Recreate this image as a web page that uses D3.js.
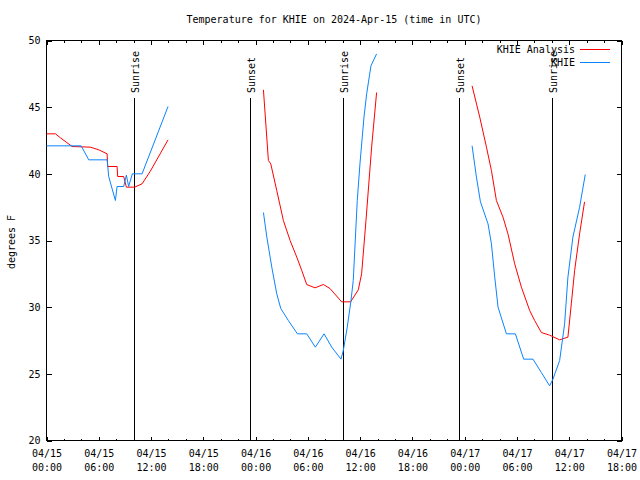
<!DOCTYPE html>
<html>
<head>
<meta charset="utf-8">
<script src="https://cdn.jsdelivr.net/npm/d3@7"></script>
<style>
  html, body { margin: 0; padding: 0; background: #fff; }
  svg { display: block; }
  text { font-family: "DejaVu Sans Mono", "Liberation Mono", monospace; font-size: 10px; fill: #000; }
</style>
</head>
<body>
<svg id="chart" width="640" height="480"></svg>
<script>
// ---- data (hours since 2024-04-15 00:00 UTC; null = gap) ----
const analysisHours = [0.0, 1.03, 1.6, 2.94, 5.04, 6.0, 6.96, 7.02, 8.1, 8.17, 8.86, 9.17, 10.12, 10.97, 11.92, 13.95,
  19.0,
  24.9, 25.47, 25.74, 26.43, 27.19, 27.96, 28.73, 29.3, 29.87, 30.82, 31.78, 32.54, 33.88, 34.91, 35.79, 36.17, 36.67, 37.32, 37.89,
  43.0,
  48.85, 49.73, 50.5, 51.07, 51.64, 52.4, 52.97, 53.74, 54.51, 55.46, 56.03, 56.8, 57.75, 58.9, 59.85, 60.24, 60.62, 61.19, 61.76];
const analysisTemps = [43.0, 43.0, 42.7, 42.05, 42.0, 41.8, 41.5, 40.55, 40.55, 39.8, 39.8, 39.0, 39.0, 39.25, 40.2, 42.55,
  null,
  46.3, 41.0, 40.75, 38.75, 36.5, 35.0, 33.75, 32.75, 31.7, 31.45, 31.7, 31.4, 30.4, 30.4, 31.3, 32.5, 36.5, 42.0, 46.1,
  null,
  46.6, 44.25, 42.0, 40.25, 38.0, 36.75, 35.5, 33.25, 31.5, 29.75, 29.0, 28.1, 27.9, 27.55, 27.75, 30.25, 32.75, 35.5, 37.9];

const obsHours = [0.0, 3.98, 4.85, 6.96, 7.14, 7.91, 8.1, 8.86, 9.17, 9.43, 9.85, 10.97, 13.95,
  19.0,
  24.9, 25.29, 25.86, 26.43, 26.89, 27.76, 28.8, 29.87, 30.86, 31.86, 32.74, 33.8, 34.07, 34.52, 34.95, 35.21, 35.67, 35.98, 36.44, 36.75, 37.24, 37.89,
  43.0,
  48.85, 49.35, 49.81, 50.68, 51.07, 51.45, 51.83, 52.79, 53.82, 54.77, 55.84, 56.8, 57.75, 58.13, 58.9, 59.47, 59.85, 60.42, 61.19, 61.84];
const obsTemps = [42.1, 42.1, 41.05, 41.05, 39.8, 38.0, 39.05, 39.05, 39.9, 39.05, 40.0, 40.0, 45.05,
  null,
  37.1, 35.25, 33.0, 31.0, 29.9, 29.0, 28.0, 28.0, 27.0, 28.0, 27.0, 26.1, 26.75, 28.5, 30.5, 32.0, 38.0, 40.75, 44.25, 46.0, 48.1, 49.0,
  null,
  42.1, 39.75, 37.9, 36.25, 34.75, 32.25, 30.0, 28.0, 28.0, 26.1, 26.1, 25.1, 24.1, 24.6, 26.0, 28.75, 32.25, 35.25, 37.5, 39.95];

const sunEventHours = [10.08, 23.38, 34.03, 47.32, 57.98];
const sunEventLabels = ["Sunrise", "Sunset", "Sunrise", "Sunset", "Sunrise"];

const yTickValues = [20, 25, 30, 35, 40, 45, 50];
const seriesNames = ["KHIE Analysis", "KHIE"];
const seriesColors = ["#ff0000", "#0a84ff"];
const titleText = "Temperature for KHIE on 2024-Apr-15 (time in UTC)";
const yLabelText = "degrees F";

// ---- helpers ----
const t0 = Date.UTC(2024, 3, 15, 0, 0);
const toDate = h => new Date(t0 + h * 3600 * 1000);

const svg = d3.select("#chart");
const L = 46.5, R = 621.5, T = 40.5, B = 440.5;

const x = d3.scaleUtc().domain([toDate(0), toDate(66)]).range([L, R]);
const y = d3.scaleLinear().domain([20, 50]).range([B, T]);

const majorTicks = d3.range(0, 67, 6).map(toDate);
const minorTicks = d3.range(0, 67, 2).filter(h => h % 6 !== 0).map(toDate);

function styleAxis(g) {
  g.select(".domain").remove();
  g.selectAll(".tick line").attr("stroke", "#000").attr("shape-rendering", "crispEdges");
}

// bottom axis (ticks inward)
svg.append("g").attr("transform", `translate(0,${B})`)
  .call(d3.axisBottom(x).tickValues(minorTicks).tickSizeInner(-2).tickSizeOuter(0).tickFormat(""))
  .call(styleAxis);
const gxMajor = svg.append("g").attr("transform", `translate(0,${B})`)
  .call(d3.axisBottom(x).tickValues(majorTicks).tickSizeInner(-4).tickSizeOuter(0).tickFormat(""))
  .call(styleAxis);
gxMajor.selectAll(".tick text").remove();
const fmtDay = d3.utcFormat("%m/%d"), fmtTime = d3.utcFormat("%H:%M");
gxMajor.selectAll(".tick").each(function(d) {
  const tx = d3.select(this).append("text").attr("text-anchor", "middle");
  tx.append("tspan").attr("x", 0).attr("y", 16).text(fmtDay(d));
  tx.append("tspan").attr("x", 0).attr("y", 30).text(fmtTime(d));
});

// top mirrored ticks
svg.append("g").attr("transform", `translate(0,${T})`)
  .call(d3.axisTop(x).tickValues(minorTicks).tickSizeInner(-2).tickSizeOuter(0).tickFormat(""))
  .call(styleAxis);
svg.append("g").attr("transform", `translate(0,${T})`)
  .call(d3.axisTop(x).tickValues(majorTicks).tickSizeInner(-4).tickSizeOuter(0).tickFormat(""))
  .call(styleAxis);

// left axis
const gy = svg.append("g").attr("transform", `translate(${L},0)`)
  .call(d3.axisLeft(y).tickValues(yTickValues).tickSizeInner(-5).tickSizeOuter(0).tickPadding(6))
  .call(styleAxis);
gy.selectAll(".tick text").attr("font-family", null).attr("font-size", null).attr("fill", "#000");
// right mirrored
svg.append("g").attr("transform", `translate(${R},0)`)
  .call(d3.axisRight(y).tickValues(yTickValues).tickSizeInner(-5).tickSizeOuter(0).tickFormat(""))
  .call(styleAxis);

// frame
svg.append("rect").attr("x", L).attr("y", T).attr("width", R - L).attr("height", B - T)
  .attr("fill", "none").attr("stroke", "#000").attr("shape-rendering", "crispEdges");

// sunrise / sunset lines
sunEventHours.forEach((h, i) => {
  const xp = Math.round(x(toDate(h))) + 0.5;
  svg.append("line").attr("x1", xp).attr("x2", xp).attr("y1", 98).attr("y2", B)
    .attr("stroke", "#000").attr("shape-rendering", "crispEdges");
  svg.append("text").attr("transform", `translate(${xp + 1},93) rotate(-90)`)
    .attr("text-anchor", "start").attr("dy", "0.35em").text(sunEventLabels[i]);
});

// series lines
function drawSeries(hours, temps, color) {
  const pts = hours.map((h, i) => ({ t: toDate(h), v: temps[i] }));
  const line = d3.line().defined(d => d.v !== null).x(d => x(d.t)).y(d => y(d.v));
  svg.append("path").datum(pts).attr("d", line)
    .attr("fill", "none").attr("stroke", color).attr("stroke-width", 1);
}
drawSeries(analysisHours, analysisTemps, seriesColors[0]);
drawSeries(obsHours, obsTemps, seriesColors[1]);

// legend
seriesNames.forEach((name, i) => {
  const ly = 49 + i * 13;
  svg.append("text").attr("x", 575).attr("y", ly).attr("dy", "0.35em")
    .attr("text-anchor", "end").text(name);
  svg.append("line").attr("x1", 580).attr("x2", 610).attr("y1", ly + 0.5).attr("y2", ly + 0.5)
    .attr("stroke", seriesColors[i]).attr("stroke-width", 1);
});

// title and y label
svg.append("text").attr("x", 334).attr("y", 19).attr("dy", "0.35em")
  .attr("text-anchor", "middle").text(titleText);
svg.append("text").attr("transform", "translate(11,242) rotate(-90)")
  .attr("text-anchor", "middle").attr("dy", "0.35em").text(yLabelText);
</script>
</body>
</html>
